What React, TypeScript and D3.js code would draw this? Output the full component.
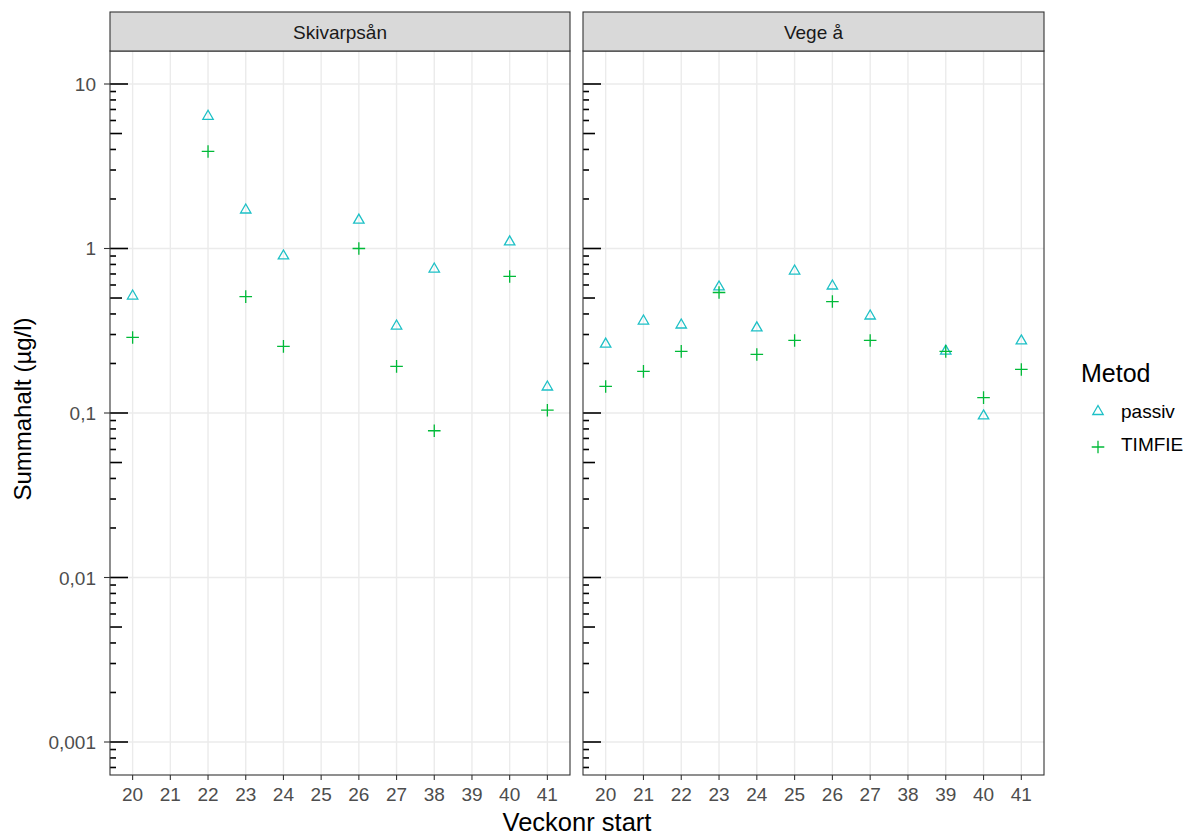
import React from 'react';
import * as d3 from 'd3';

const weeks = ['20', '21', '22', '23', '24', '25', '26', '27', '38', '39', '40', '41'];
const facets = ['Skivarpsån', 'Vege å'];

// Skivarpsån
const skivPassiv: [string, number][] = [
  ['20', 0.525], ['22', 6.5], ['23', 1.75], ['24', 0.92], ['26', 1.52],
  ['27', 0.345], ['38', 0.766], ['40', 1.12], ['41', 0.147]
];
const skivTimfie: [string, number][] = [
  ['20', 0.288], ['22', 3.89], ['23', 0.51], ['24', 0.254], ['26', 1.0],
  ['27', 0.192], ['38', 0.078], ['40', 0.676], ['41', 0.104]
];
// Vege å
const vegePassiv: [string, number][] = [
  ['20', 0.268], ['21', 0.37], ['22', 0.35], ['23', 0.596], ['24', 0.336], ['25', 0.745],
  ['26', 0.604], ['27', 0.397], ['39', 0.243], ['40', 0.098], ['41', 0.28]
];
const vegeTimfie: [string, number][] = [
  ['20', 0.145], ['21', 0.179], ['22', 0.237], ['23', 0.54], ['24', 0.227], ['25', 0.276],
  ['26', 0.476], ['27', 0.276], ['39', 0.237], ['40', 0.124], ['41', 0.184]
];

const yTicks = [10, 1, 0.1, 0.01, 0.001];
const yTickLabels = ['10', '1', '0,1', '0,01', '0,001'];

const PASSIV = '#1DC0C6';
const TIMFIE = '#00BA38';
const FONT = 'Liberation Sans, Arial, sans-serif';
const TICK_FS = 19;
const TITLE_FS = 25;

const top = 51;
const bottom = 775;
const panels = [
  { x0: 110, x1: 570 },
  { x0: 583, x1: 1044 }
];
const series = [
  { passiv: skivPassiv, timfie: skivTimfie },
  { passiv: vegePassiv, timfie: vegeTimfie }
];

const y = d3.scaleLog().domain([Math.pow(10, -3.2006), Math.pow(10, 1.2006)]).range([bottom, top]);

// annotation_logticks style marks
const logTicks: { v: number; len: number }[] = [];
for (let e = -4; e <= 2; e++) {
  for (let m = 1; m <= 9; m++) {
    const v = m * Math.pow(10, e);
    if (y(v) < top || y(v) > bottom) continue;
    logTicks.push({ v, len: m === 1 ? 18 : m === 5 ? 12 : 6 });
  }
}

function Triangle({ cx, cy }: { cx: number; cy: number }) {
  const r = 5.2;
  const h = r * Math.sqrt(3);
  return (
    <path
      d={`M${cx},${cy - h / 2}L${cx + r},${cy + h / 2}L${cx - r},${cy + h / 2}Z`}
      fill="none" stroke={PASSIV} strokeWidth={1.3}
    />
  );
}

function Plus({ cx, cy }: { cx: number; cy: number }) {
  const r = 6.3;
  return (
    <path d={`M${cx - r},${cy}H${cx + r}M${cx},${cy - r}V${cy + r}`} stroke={TIMFIE} strokeWidth={1.3} fill="none" />
  );
}

export default function App() {
  return (
    <svg width={1189} height={836} style={{ position: 'absolute', left: 0, top: 0 }} fontFamily={FONT}>
      <rect width={1189} height={836} fill="#fff" />
      {panels.map((p, i) => {
        const x = d3.scalePoint().domain(weeks).range([p.x0, p.x1]).padding(0.6);
        const s = series[i];
        return (
          <g key={i}>
            {/* grid */}
            {yTicks.map((t) => (
              <line key={'h' + t} x1={p.x0} x2={p.x1} y1={y(t)} y2={y(t)} stroke="#ebebeb" strokeWidth={1.4} />
            ))}
            {weeks.map((w) => (
              <line key={'v' + w} x1={x(w)} x2={x(w)} y1={top} y2={bottom} stroke="#ebebeb" strokeWidth={1.4} />
            ))}
            {/* log ticks */}
            {logTicks.map((t, j) => (
              <line key={'lt' + j} x1={p.x0} x2={p.x0 + t.len} y1={y(t.v)} y2={y(t.v)} stroke="#000" strokeWidth={1.6} />
            ))}
            {/* points */}
            {s.passiv.map(([w, v]) => <Triangle key={'p' + w} cx={x(w)!} cy={y(v)} />)}
            {s.timfie.map(([w, v]) => <Plus key={'t' + w} cx={x(w)!} cy={y(v)} />)}
            {/* border */}
            <rect x={p.x0} y={top} width={p.x1 - p.x0} height={bottom - top} fill="none" stroke="#333" strokeWidth={1.1} />
            {/* strip */}
            <rect x={p.x0} y={12} width={p.x1 - p.x0} height={top - 12} fill="#d9d9d9" stroke="#333" strokeWidth={1.1} />
            <text x={(p.x0 + p.x1) / 2} y={38.5} textAnchor="middle" fontSize={TICK_FS} fill="#1a1a1a">{facets[i]}</text>
            {/* x axis */}
            {weeks.map((w) => (
              <g key={'xt' + w}>
                <line x1={x(w)} x2={x(w)} y1={bottom} y2={bottom + 5} stroke="#333" strokeWidth={1.1} />
                <text x={x(w)} y={801} textAnchor="middle" fontSize={TICK_FS} fill="#4d4d4d">{w}</text>
              </g>
            ))}
          </g>
        );
      })}
      {/* y axis on left panel */}
      {yTicks.map((t, i) => (
        <g key={'yt' + t}>
          <line x1={104} x2={110} y1={y(t)} y2={y(t)} stroke="#333" strokeWidth={1.1} />
          <text x={96} y={y(t) + 7} textAnchor="end" fontSize={TICK_FS} fill="#4d4d4d">{yTickLabels[i]}</text>
        </g>
      ))}
      <text transform={`translate(31,409) rotate(-90)`} textAnchor="middle" fontSize={24} fill="#000">
        Summahalt (µg/l)
      </text>
      <text x={577} y={831} textAnchor="middle" fontSize={TITLE_FS + 0.5} fill="#000">Veckonr start</text>
      {/* legend */}
      <text x={1081} y={382} fontSize={TITLE_FS} fill="#000">Metod</text>
      <Triangle cx={1098} cy={410} />
      <text x={1121} y={417.5} fontSize={TICK_FS} fill="#000">passiv</text>
      <Plus cx={1098} cy={447} />
      <text x={1121} y={451} fontSize={TICK_FS} fill="#000">TIMFIE</text>
    </svg>
  );
}
